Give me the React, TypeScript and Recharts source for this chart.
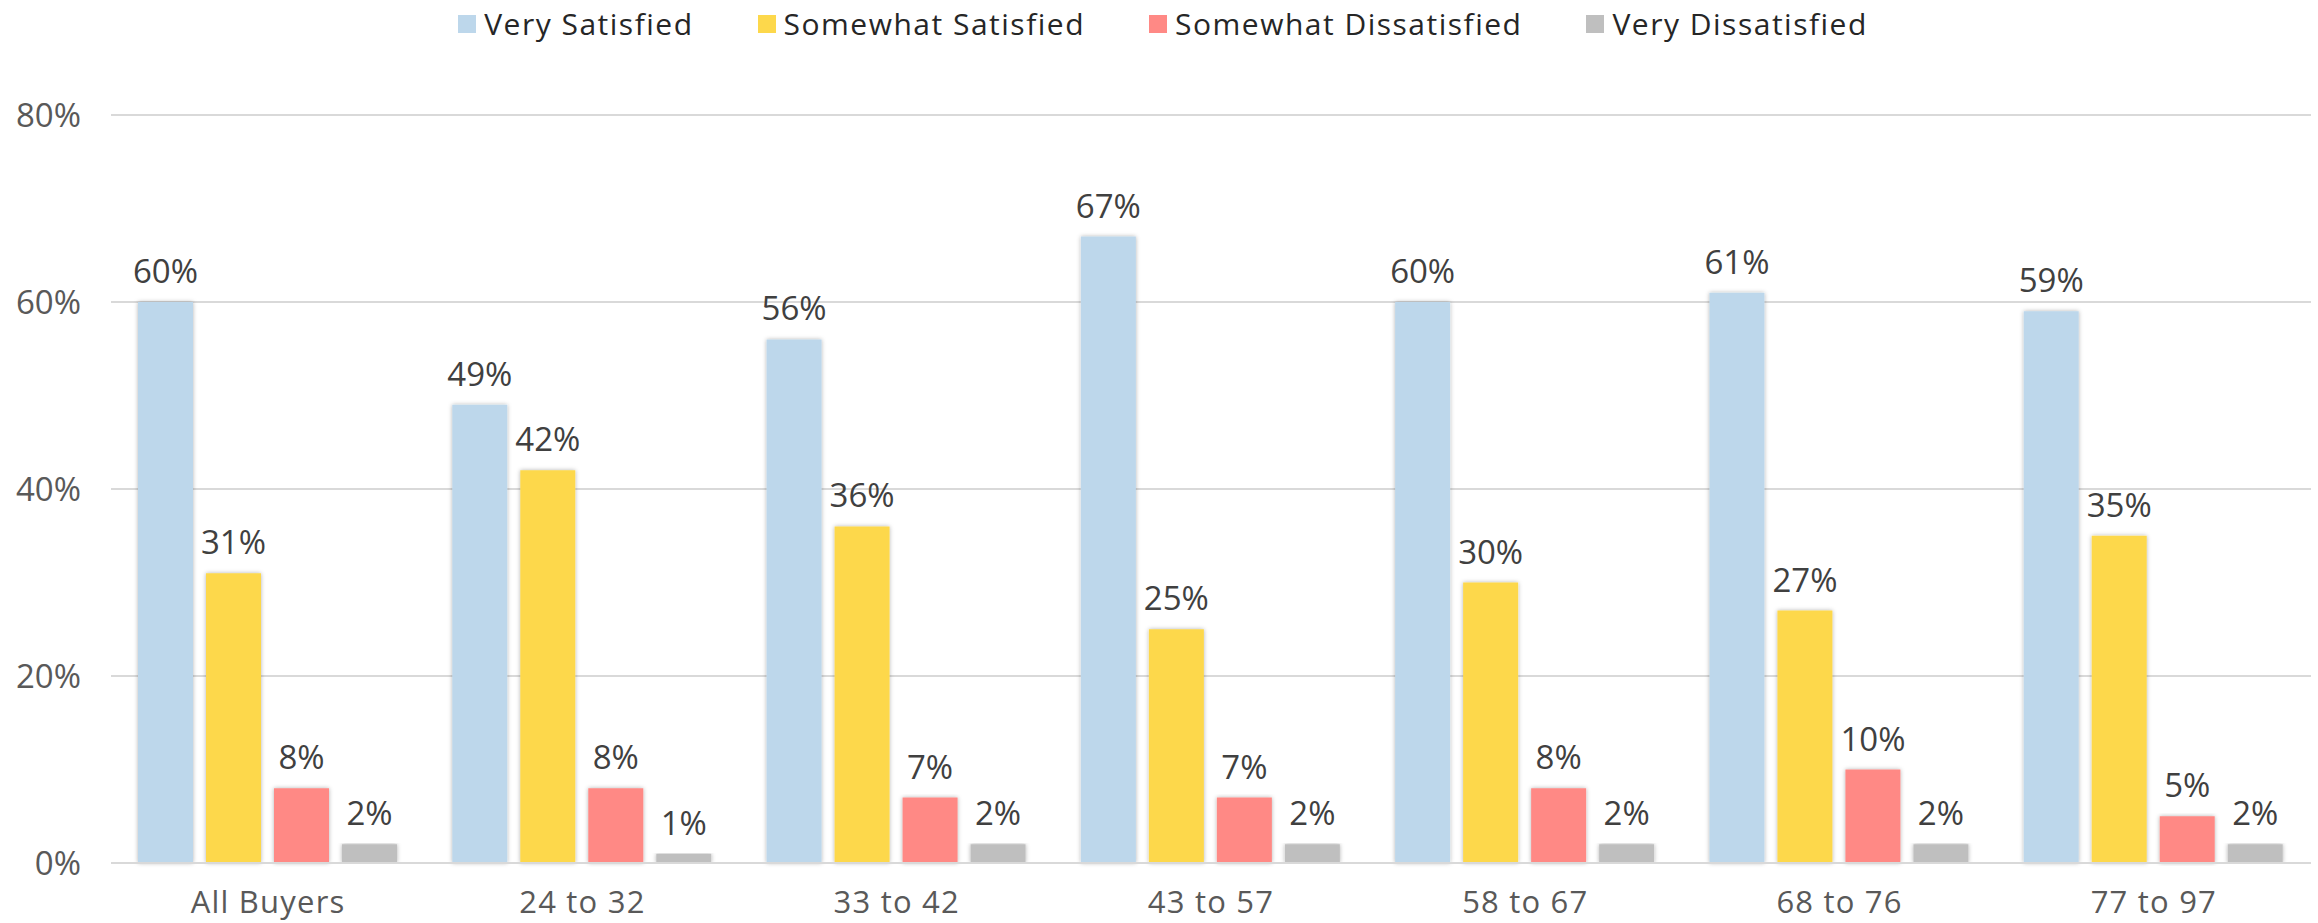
import React from 'react'
import { BarChart, Bar, XAxis, YAxis, CartesianGrid, Legend, LabelList } from 'recharts'

const categories = ['All Buyers', '24 to 32', '33 to 42', '43 to 57', '58 to 67', '68 to 76', '77 to 97']
const verySatisfied = [60, 49, 56, 67, 60, 61, 59]
const somewhatSatisfied = [31, 42, 36, 25, 30, 27, 35]
const somewhatDissatisfied = [8, 8, 7, 7, 8, 10, 5]
const veryDissatisfied = [2, 1, 2, 2, 2, 2, 2]
const yTicks = [0, 20, 40, 60, 80]

const SERIES = [
  { key: 'verySatisfied', name: 'Very Satisfied', color: '#BDD7EB' },
  { key: 'somewhatSatisfied', name: 'Somewhat Satisfied', color: '#FDD84B' },
  { key: 'somewhatDissatisfied', name: 'Somewhat Dissatisfied', color: '#FF8985' },
  { key: 'veryDissatisfied', name: 'Very Dissatisfied', color: '#BFBFBF' },
]

const FONT = '"Open Sans", sans-serif'

const data = categories.map((name, i) => ({
  name,
  verySatisfied: verySatisfied[i],
  somewhatSatisfied: somewhatSatisfied[i],
  somewhatDissatisfied: somewhatDissatisfied[i],
  veryDissatisfied: veryDissatisfied[i],
}))

// keep legend in series order (recharts sorts it by name otherwise)
function renderLegend(props: any) {
  const order = SERIES.map((s) => s.name)
  const payload = [...(props.payload || [])].sort(
    (a: any, b: any) => order.indexOf(a.value) - order.indexOf(b.value)
  )
  return (
    <div style={{ height: 50, display: 'flex', justifyContent: 'center', alignItems: 'flex-start', paddingTop: 4, paddingLeft: 8 }}>
      {payload.map((item: any, i: number) => (
        <div key={i} style={{ display: 'flex', alignItems: 'center', marginRight: i < payload.length - 1 ? 64 : 0 }}>
          <span style={{ width: 18, height: 18, background: item.color, display: 'inline-block', marginRight: 8 }} />
          <span style={{ fontFamily: FONT, fontSize: 30, letterSpacing: 1.5, color: '#262626', lineHeight: '40px' }}>{item.value}</span>
        </div>
      ))}
    </div>
  )
}

export default function App() {
  return (
    <div>
      <style>{`body{margin:0}`}</style>
      <BarChart
        width={2318}
        height={923}
        data={data}
        margin={{ top: 61, right: 7, bottom: 0, left: 0 }}
        barCategoryGap={27}
        barGap={13}
      >
        <defs>
          <filter id="barShadow" x="-20%" y="-5%" width="140%" height="110%">
            <feDropShadow dx="0" dy="0" stdDeviation="2" floodColor="#000" floodOpacity="0.3" />
          </filter>
        </defs>
        <Legend verticalAlign="top" content={renderLegend} wrapperStyle={{ top: 0, left: 0, width: 2318 }} />
        <CartesianGrid vertical={false} stroke="#d9d9d9" strokeWidth={2} />
        <XAxis
          dataKey="name"
          height={60}
          tickLine={false}
          axisLine={{ stroke: '#d9d9d9', strokeWidth: 2 }}
          tickSize={0}
          tickMargin={28}
          tick={{ fontFamily: FONT, fontSize: 31, fill: '#595959', letterSpacing: 1.2 }}
        />
        <YAxis
          width={111}
          domain={[0, 80]}
          ticks={yTicks}
          tickFormatter={(v) => `${v}%`}
          axisLine={false}
          tickLine={false}
          tickSize={0}
          tickMargin={30}
          tick={{ fontFamily: FONT, fontSize: 33, fill: '#595959' }}
        />
        {SERIES.map((s) => (
          <Bar
            key={s.key}
            dataKey={s.key}
            name={s.name}
            fill={s.color}
            filter="url(#barShadow)"
            isAnimationActive={false}
          >
            <LabelList
              dataKey={s.key}
              position="top"
              offset={19}
              formatter={(v: any) => `${v}%`}
              style={{ fontFamily: FONT, fontSize: 33, fill: '#404040' }}
            />
          </Bar>
        ))}
      </BarChart>
    </div>
  )
}
